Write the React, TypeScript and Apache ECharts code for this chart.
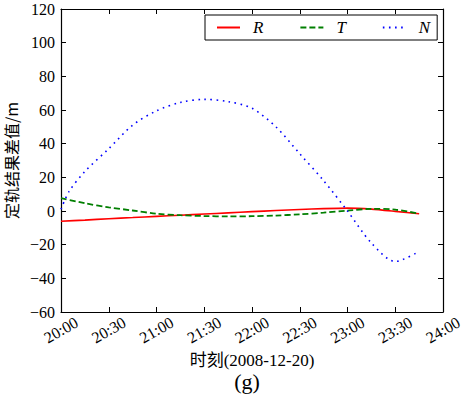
import React, { useEffect, useRef } from "react";
import * as echarts from "echarts";

// minutes after 20:00 on 2008-12-20
const minutes = [0, 15, 30, 45, 60, 75, 90, 105, 120, 135, 150, 165, 180, 195, 210, 225];
const rValues = [-6.1, -5.4, -4.6, -3.9, -3.2, -2.5, -1.8, -1.1, -0.4, 0.3, 0.9, 1.4, 1.7, 1.1, -0.2, -1.6];
const tValues = [7.7, 4.6, 2.2, 0.3, -1.6, -2.5, -3.0, -3.2, -3.1, -2.7, -2.0, -1.0, 0.2, 1.3, 0.8, -1.6];
const nMinutes = [0, 5, 15, 30, 45, 60, 75, 90, 105, 120, 135, 150, 165, 180, 195, 210, 225];
const nValues = [1, 11.5, 23.5, 37, 51, 59.5, 64.5, 66.3, 65, 61, 50, 34, 18, 0, -19, -30, -24];
const yTicks = { min: -60, max: 120, interval: 20 };
const xTicks = { min: 0, max: 240, interval: 30 };

const SERIF = "'Liberation Serif', 'DejaVu Serif', serif";
const MIXED = "'Liberation Serif', 'Noto Sans CJK SC', serif";

function fmtTime(v: number) {
  const h = 20 + Math.floor(v / 60);
  const m = v % 60;
  return `${h}:${m < 10 ? "0" + m : m}`;
}

export default function App() {
  const ref = useRef<HTMLDivElement>(null);
  useEffect(() => {
    if (!ref.current) return;
    const chart = echarts.init(ref.current, null, { renderer: "svg" });
    const axisLine = { show: true, onZero: false, lineStyle: { color: "#000", width: 1.2 } };
    const tick = { show: true, inside: true, length: 5, lineStyle: { color: "#000", width: 1 } };
    chart.setOption({
      animation: false,
      backgroundColor: "#fff",
      grid: { left: 61, right: 20, top: 9, bottom: 82, containLabel: false, outerBoundsMode: "none" },
      legend: {
        left: 205,
        top: 15,
        padding: [4, 7, 4, 11],
        itemWidth: 23,
        itemHeight: 14,
        itemGap: 36,
        borderColor: "#000",
        borderWidth: 1,
        borderRadius: 0,
        itemStyle: { opacity: 0 },
        textStyle: {
          fontFamily: SERIF,
          fontStyle: "italic",
          fontSize: 17,
          color: "#000",
          padding: [0, 0, 0, 8],
        },
        data: ["R", "T", "N"],
      },
      xAxis: [
        {
          type: "value",
          position: "bottom",
          ...xTicks,
          axisLine,
          axisTick: tick,
          splitLine: { show: false },
          axisLabel: {
            formatter: fmtTime,
            rotate: 30,
            align: "center",
            verticalAlign: "middle",
            margin: 18,
            fontFamily: SERIF,
            fontSize: 16,
            color: "#000",
          },
          name: "时刻(2008-12-20)",
          nameLocation: "middle",
          nameGap: 33,
          nameTextStyle: { fontFamily: MIXED, fontSize: 17, color: "#000" },
        },
        {
          type: "value",
          position: "top",
          ...xTicks,
          axisLine,
          axisTick: tick,
          axisLabel: { show: false },
          splitLine: { show: false },
        },
      ],
      yAxis: [
        {
          type: "value",
          position: "left",
          ...yTicks,
          axisLine,
          axisTick: tick,
          splitLine: { show: false },
          axisLabel: {
            fontFamily: SERIF,
            fontSize: 16,
            color: "#000",
            margin: 6,
            formatter: (v: number) => String(v).replace("-", "\u2212"),
          },
          name: "定轨结果差值/m",
          nameLocation: "middle",
          nameGap: 33,
          nameTextStyle: { fontFamily: "'Noto Sans CJK SC', sans-serif", fontSize: 16, color: "#000" },
        },
        {
          type: "value",
          position: "right",
          ...yTicks,
          axisLine,
          axisTick: tick,
          axisLabel: { show: false },
          splitLine: { show: false },
        },
      ],
      series: [
        {
          name: "R",
          type: "line",
          symbol: "none",
          data: minutes.map((m, i) => [m, rValues[i]]),
          lineStyle: { color: "#ff0000", width: 1.6 },
          itemStyle: { color: "#ff0000" },
          smooth: 0.2,
        },
        {
          name: "T",
          type: "line",
          symbol: "none",
          data: minutes.map((m, i) => [m, tValues[i]]),
          lineStyle: { color: "#007f00", width: 1.8, type: [6, 3] },
          itemStyle: { color: "#007f00" },
          smooth: 0.3,
        },
        {
          name: "N",
          type: "line",
          symbol: "none",
          data: nMinutes.map((m, i) => [m, nValues[i]]),
          lineStyle: { color: "#0000ff", width: 1.6, type: [1.6, 4.5] },
          itemStyle: { color: "#0000ff" },
          smooth: 0.3,
        },
      ],
      graphic: [
        {
          type: "text",
          x: 247,
          y: 381,
          style: {
            text: "(g)",
            fontFamily: SERIF,
            fontSize: 22,
            fill: "#000",
            align: "center",
            verticalAlign: "middle",
          },
        },
      ],
    });
    return () => chart.dispose();
  }, []);
  return (
    <div
      ref={ref}
      style={{ position: "fixed", left: 0, top: 0, width: 463, height: 394, background: "#fff" }}
    />
  );
}
